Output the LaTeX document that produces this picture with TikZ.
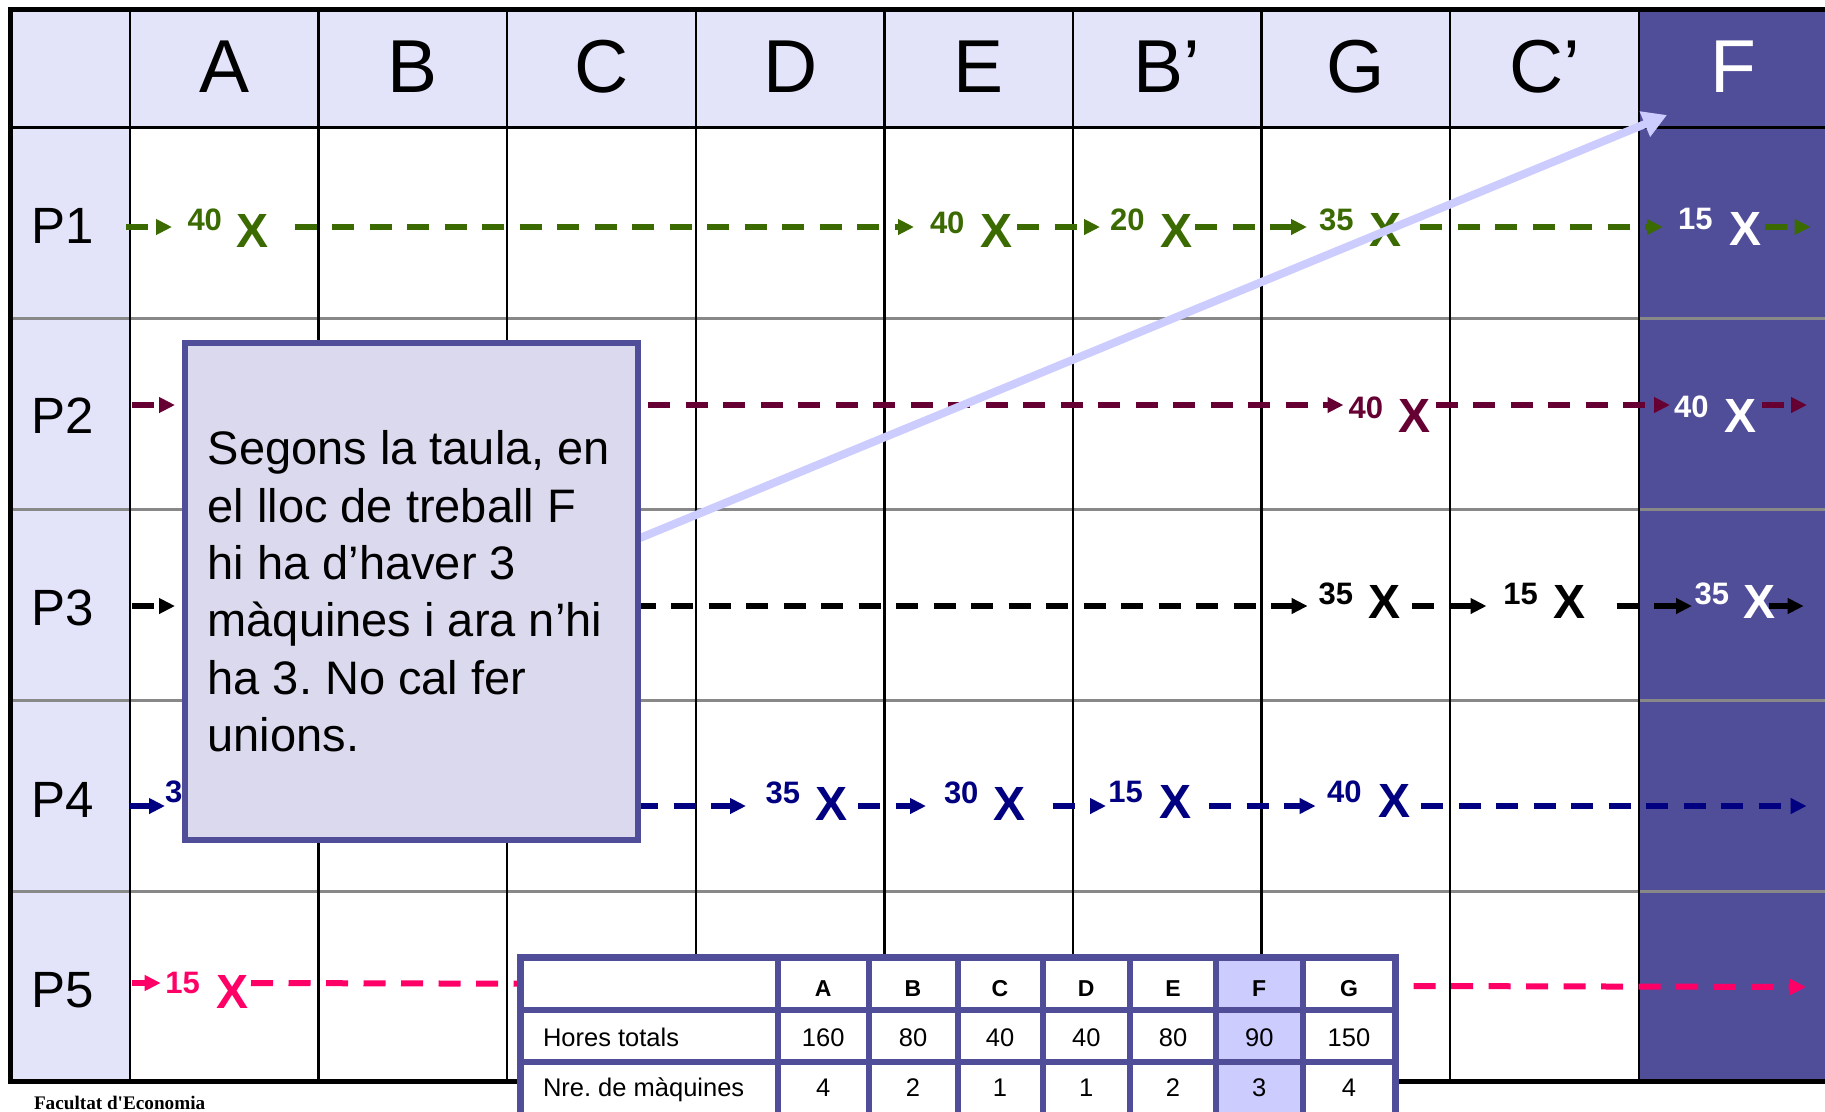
\documentclass[tikz,border=0pt]{standalone}
\usepackage{fontspec}
\setmainfont{Liberation Sans}
\newfontfamily\footserif{Liberation Serif}
\usetikzlibrary{arrows.meta}

\definecolor{hdrfill}{RGB}{227,227,250}
\definecolor{fcol}{RGB}{81,78,153}
\definecolor{notefill}{RGB}{218,217,237}
\definecolor{callcol}{RGB}{204,204,255}
\definecolor{pone}{RGB}{58,106,0}
\definecolor{ptwo}{RGB}{102,0,51}
\definecolor{pthree}{RGB}{0,0,0}
\definecolor{pfour}{RGB}{0,0,128}
\definecolor{pfive}{RGB}{255,0,102}
\definecolor{rowgray}{RGB}{136,136,136}

% flow segment between two named coordinates: colour, name, x1, x2, y
\newcommand\fseg[5]{\coordinate (#2a) at (#3,#5); \coordinate (#2b) at (#4,#5); \draw[flowln,#1] (#2a) -- (#2b);}

\begin{document}
\frenchspacing
\begin{tikzpicture}[x=1pt,y=-1pt,
  every node/.style={inner sep=0pt, outer sep=0pt},
  hdr/.style={font=\fontsize{75}{90}\selectfont, anchor=base},
  rowlab/.style={font=\fontsize{51}{61}\selectfont, anchor=base west},
  qty/.style={font=\fontsize{31}{37}\selectfont\bfseries, anchor=base west},
  xmk/.style={font=\fontsize{48}{58}\selectfont\bfseries, anchor=base west},
  flowln/.style={line width=6pt, dash pattern=on 22pt off 15.5pt, -{Triangle[length=16pt,width=15pt]}},
  callln/.style={draw=callcol, line width=8pt, -{Triangle[length=24pt,width=26pt]}},
  notebox/.style={draw=fcol, line width=5.5pt, fill=notefill, minimum width=453pt, minimum height=497pt},
  notetext/.style={font=\fontsize{47}{57.3}\selectfont\frenchspacing, align=left, anchor=west},
  rowln/.style={draw=rowgray, line width=3pt},
  colln/.style={draw=black, line width=2.5pt},
  hdrln/.style={draw=black, line width=3pt},
  outerframe/.style={draw=black, line width=5pt, line join=miter},
  tblline/.style={draw=fcol, line width=6pt},
  thd/.style={font=\fontsize{23}{28}\selectfont\bfseries, anchor=base},
  tcell/.style={font=\fontsize{25.5}{30}\selectfont, anchor=base},
  tname/.style={font=\fontsize{25.5}{30}\selectfont\frenchspacing, anchor=base west}
]
\useasboundingbox (0,0) rectangle (1825,1111);
\clip (0,0) rectangle (1825,1111);
\fill[white] (0,0) rectangle (1825,1111);

% ---- grid fills ----
\fill[hdrfill] (10,9) rectangle (1638.8,127);
\fill[hdrfill] (10,127) rectangle (130,1081);
\fill[fcol] (1638.8,9) rectangle (1840,1081);

% ---- grid lines ----
\foreach \y in {318,509,700,891} \draw[rowln] (10,\y) -- (1840,\y);
\foreach \x in {130,318.6,507.2,695.8,884.4,1073,1261.6,1450.2,1638.8} \draw[colln] (\x,9) -- (\x,1081);
\draw[hdrln] (10,127) -- (1840,127);
\draw[outerframe] (1840,9) -- (10.5,9) -- (10.5,1081) -- (1840,1081);

% ---- header and row labels ----
\foreach \t/\x [count=\i] in {A/224.3, B/412.9, C/601.5, D/790.1, E/978.7, B’/1167.3, G/1355.9, C’/1544.5}
  \node[hdr] (col\i) at (\x,92) {\t};
\node[hdr, text=white] (col9) at (1733.1,92) {F};
\foreach \t/\y [count=\i] in {P1/243, P2/433, P3/625, P4/817, P5/1007}
  \node[rowlab] (row\i) at (31,\y) {\t};

% ---- P1 (green) ----
\node[qty, text=pone] (p1q1) at (187.5,230) {40};
\node[xmk, text=pone] (p1x1) at (236.6,247) {X};
\node[qty, text=pone] (p1q2) at (930,233) {40};
\node[xmk, text=pone] (p1x2) at (980,247) {X};
\node[qty, text=pone] (p1q3) at (1110,230) {20};
\node[xmk, text=pone] (p1x3) at (1160,247) {X};
\node[qty, text=pone] (p1q4) at (1319,230) {35};
\node[xmk, text=pone] (p1x4) at (1369,246) {X};
\node[qty, text=white] (p1q5) at (1678.2,229) {15};
\node[xmk, text=white] (p1x5) at (1729.5,245) {X};
\fseg{pone}{p1s0}{126}{172}{227}
\fseg{pone}{p1s1}{294.6}{914}{227}
\fseg{pone}{p1s2}{1017}{1100}{227}
\fseg{pone}{p1s3}{1195}{1307}{227}
\fseg{pone}{p1s4}{1420}{1663}{227}
\fseg{pone}{p1s5}{1765}{1810.5}{227}

% ---- P2 (maroon) ----
\node[qty, text=ptwo] (p2q1) at (1348.5,418) {40};
\node[xmk, text=ptwo] (p2x1) at (1398.8,432) {X};
\node[qty, text=white] (p2q2) at (1674,417) {40};
\node[xmk, text=white] (p2x2) at (1724.5,432) {X};
\fseg{ptwo}{p2s0}{131.7}{175}{405}
\fseg{ptwo}{p2s1}{610.5}{1343.5}{405}
\fseg{ptwo}{p2s2}{1435.6}{1670}{405}
\fseg{ptwo}{p2s3}{1762}{1807}{405}

% ---- P3 (black) ----
\node[qty, text=pthree] (p3q1) at (1318.7,604) {35};
\node[xmk, text=pthree] (p3x1) at (1368,618) {X};
\node[qty, text=pthree] (p3q2) at (1503.3,604) {15};
\node[xmk, text=pthree] (p3x2) at (1553.6,618) {X};
\node[qty, text=white] (p3q3) at (1694.5,604) {35};
\node[xmk, text=white] (p3x3) at (1743,618) {X};
\fseg{pthree}{p3s0}{131.7}{175}{606}
\fseg{pthree}{p3s1}{596}{1307.6}{606}
\fseg{pthree}{p3s2}{1412}{1486.5}{606}
\fseg{pthree}{p3s3}{1616.7}{1692}{606}
\fseg{pthree}{p3s4}{1769}{1803.7}{606}

% ---- P4 (navy) ----
\node[qty, text=pfour] (p4q0) at (165,802) {3};
\node[qty, text=pfour] (p4q1) at (765.6,803) {35};
\node[xmk, text=pfour] (p4x1) at (815,820) {X};
\node[qty, text=pfour] (p4q2) at (944,803) {30};
\node[xmk, text=pfour] (p4x2) at (993,820) {X};
\node[qty, text=pfour] (p4q3) at (1108.4,802) {15};
\node[xmk, text=pfour] (p4x3) at (1159.6,818) {X};
\node[qty, text=pfour] (p4q4) at (1327,802) {40};
\node[xmk, text=pfour] (p4x4) at (1378,817) {X};
\fseg{pfour}{p4s0}{129.5}{165}{806}
\fseg{pfour}{p4s1}{598.5}{746}{806}
\fseg{pfour}{p4s2}{858}{926}{806}
\fseg{pfour}{p4s3}{1052.5}{1106}{806}
\fseg{pfour}{p4s4}{1209}{1315.6}{806}
\fseg{pfour}{p4s5}{1421}{1806.6}{806}

% ---- P5 (pink) ----
\node[qty, text=pfive] (p5q1) at (165.4,993) {15};
\node[xmk, text=pfive] (p5x1) at (216.5,1008) {X};
\fseg{pfive}{p5s0}{131.7}{160.7}{983}
\coordinate (p5s1a) at (251,983);
\coordinate (p5s1b) at (1806,987);
\draw[flowln, pfive] (p5s1a) -- (p5s1b);

% ---- callout ----
\coordinate (cstart) at (640,538);
\coordinate (ctip) at (1667,115);
\draw[callln] (cstart) -- (ctip);
\node[notebox] (note) at (411.3,591.4) {};
\node[notetext] (notetxt) at ([xshift=22.85pt]note.west)
  {Segons la taula, en\\el lloc de treball F\\hi ha d’haver 3\\màquines i ara n’hi\\ha 3. No cal fer\\unions.};

% ---- table ----
\fill[white] (520,957) rectangle (1395.5,1118);
\fill[callcol] (1216,957) rectangle (1302.5,1118);
\foreach \x in {778,868.5,957.5,1042.5,1130,1216,1302.5} \draw[tblline] (\x,957) -- (\x,1118);
\foreach \y in {1010,1062} \draw[tblline] (520,\y) -- (1395.5,\y);
\draw[tblline, line width=7pt] (520,1118) -- (520,957) -- (1395.5,957) -- (1395.5,1118);
\foreach \t/\x [count=\i] in {A/823.25, B/913, C/1000, D/1086.25, E/1173, F/1259.25, G/1349}
  \node[thd] (th\i) at (\x,996.7) {\t};
\node[tname] (hname) at (543,1046.7) {Hores totals};
\foreach \t/\x [count=\i] in {160/823.25, 80/913, 40/1000, 40/1086.25, 80/1173, 90/1259.25, 150/1349}
  \node[tcell] (hv\i) at (\x,1046.7) {\t};
\node[tname] (mname) at (543,1096.7) {Nre. de màquines};
\foreach \t/\x [count=\i] in {4/823.25, 2/913, 1/1000, 1/1086.25, 2/1173, 3/1259.25, 4/1349}
  \node[tcell] (mv\i) at (\x,1096.7) {\t};

% ---- footer ----
\node[font=\footserif\bfseries\fontsize{19.2}{23}\selectfont, anchor=base west] (foot) at (34,1109) {Facultat d'Economia};
\end{tikzpicture}
\end{document}
